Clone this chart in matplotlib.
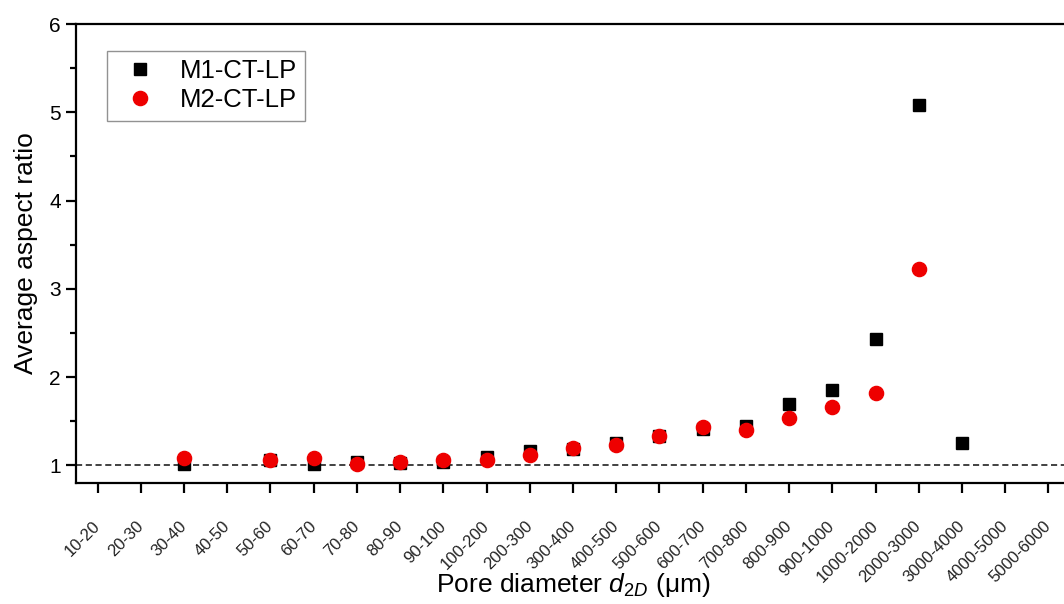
import numpy as np
import matplotlib
matplotlib.use("Agg")
import matplotlib.pyplot as plt
import matplotlib.transforms as mtransforms
from matplotlib.ticker import MultipleLocator

plt.rcParams['font.family'] = ['Liberation Sans', 'DejaVu Sans']
plt.rcParams['mathtext.fontset'] = 'custom'
plt.rcParams['mathtext.it'] = 'Liberation Sans:italic'
plt.rcParams['mathtext.rm'] = 'Liberation Sans'

# Pore diameter classes (µm)
size_classes = ["10-20", "20-30", "30-40", "40-50", "50-60", "60-70", "70-80",
                "80-90", "90-100", "100-200", "200-300", "300-400", "400-500",
                "500-600", "600-700", "700-800", "800-900", "900-1000",
                "1000-2000", "2000-3000", "3000-4000", "4000-5000", "5000-6000"]

# Average aspect ratio per class (NaN = no pores in that class)
m1_ct_lp = [np.nan, np.nan, 1.02, np.nan, 1.06, 1.02, 1.04, 1.03, 1.04, 1.09,
            1.16, 1.19, 1.25, 1.33, 1.41, 1.45, 1.69, 1.85, 2.43, 5.08, 1.25,
            np.nan, np.nan]
m2_ct_lp = [np.nan, np.nan, 1.08, np.nan, 1.06, 1.08, 1.01, 1.04, 1.06, 1.06,
            1.12, 1.20, 1.23, 1.33, 1.43, 1.40, 1.54, 1.66, 1.82, 3.22, np.nan,
            np.nan, np.nan]

W, H = 1064, 604
fig = plt.figure(figsize=(W / 100, H / 100), dpi=100)
left, right, bottom, top = 76, 1070, 604 - 483, 604 - 24
ax = fig.add_axes([left / W, bottom / H, (right - left) / W, (top - bottom) / H])

x = np.arange(len(size_classes))
ax.axhline(1.0, color='#333333', lw=1.3, dashes=(3.4, 2.0), zorder=1)
ax.plot(x, m1_ct_lp, linestyle='none', marker='s', ms=8.6, color='black',
        mec='black', label='M1-CT-LP', zorder=3)
ax.plot(x, m2_ct_lp, linestyle='none', marker='o', ms=10.2, color='#ee0000',
        mec='#ee0000', label='M2-CT-LP', zorder=4)

ax.set_xlim(-0.5, len(size_classes) - 0.5)
ax.set_ylim(0.8, 6)
ax.set_xticks(x)
ax.set_xticklabels(size_classes, rotation=45, rotation_mode='anchor',
                   ha='right', va='center', fontsize=12, color='#222222')
shift = mtransforms.ScaledTranslation(5 / 72, 0, fig.dpi_scale_trans)
for lbl in ax.get_xticklabels():
    lbl.set_transform(lbl.get_transform() + shift)

ax.yaxis.set_major_locator(MultipleLocator(1))
ax.yaxis.set_minor_locator(MultipleLocator(0.5))
ax.tick_params(axis='y', which='major', labelsize=15, length=7, width=1.6,
               direction='out', pad=4)
ax.tick_params(axis='y', which='minor', length=4, width=1.6, direction='out')
ax.tick_params(axis='x', which='major', length=7.5, width=1.6, direction='out',
               pad=22)

for side in ('left', 'bottom', 'top'):
    ax.spines[side].set_linewidth(1.6)
ax.spines['right'].set_visible(False)

ax.set_ylabel('Average aspect ratio', fontsize=19, labelpad=8)
ax.set_xlabel(r'Pore diameter $d_{2D}$ ($\mathrm{\mu}$m)', fontsize=19,
              va='center')
ax.xaxis.set_label_coords(0.5, (604 - 585 - bottom) / (top - bottom))

leg = ax.legend(loc='upper left',
                bbox_to_anchor=((107 - left) / (right - left),
                                1 - (51 - 24) / (top - bottom)),
                fontsize=18.5, frameon=True, fancybox=False, edgecolor='#777777',
                borderpad=0.32, handletextpad=0.62, labelspacing=0.2,
                handlelength=1.9, borderaxespad=0)
leg.get_frame().set_linewidth(1.0)

fig.savefig('out.png', dpi=100)
